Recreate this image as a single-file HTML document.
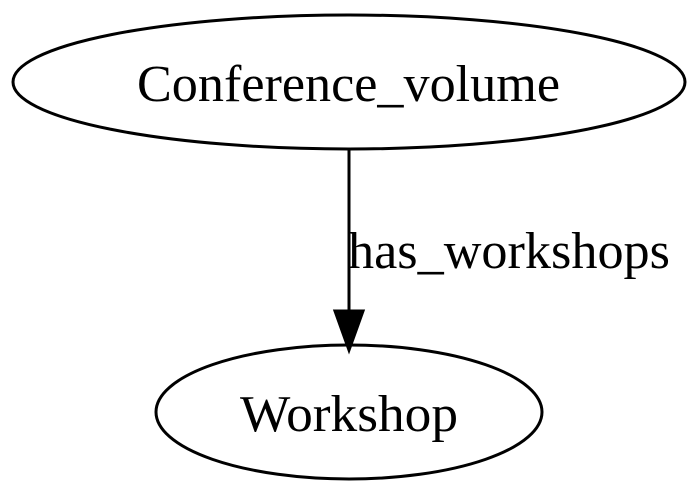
<!DOCTYPE html>
<html><head><style>html,body{margin:0;padding:0;background:#fff}svg{display:block}</style></head>
<body>
<svg width="700" height="498" viewBox="0 0 700 498" xmlns="http://www.w3.org/2000/svg">
<rect width="700" height="498" fill="#fff"/>
<g fill="none" stroke="#000" stroke-width="3">
<ellipse cx="349" cy="82" rx="336" ry="67"/>
<ellipse cx="349" cy="412" rx="193" ry="67"/>
<line x1="349" y1="150" x2="349" y2="312"/>
</g>
<polygon points="335,311 363,311 349,350" fill="#000" stroke="#000" stroke-width="3"/>
<g font-family="Liberation Serif, serif" font-size="52" fill="#000">
<text x="137" y="101" textLength="423" lengthAdjust="spacingAndGlyphs">Conference_volume</text>
<text x="240" y="431" textLength="218" lengthAdjust="spacingAndGlyphs">Workshop</text>
<text x="348" y="268" textLength="322" lengthAdjust="spacingAndGlyphs">has_workshops</text>
</g>
</svg>
</body></html>
